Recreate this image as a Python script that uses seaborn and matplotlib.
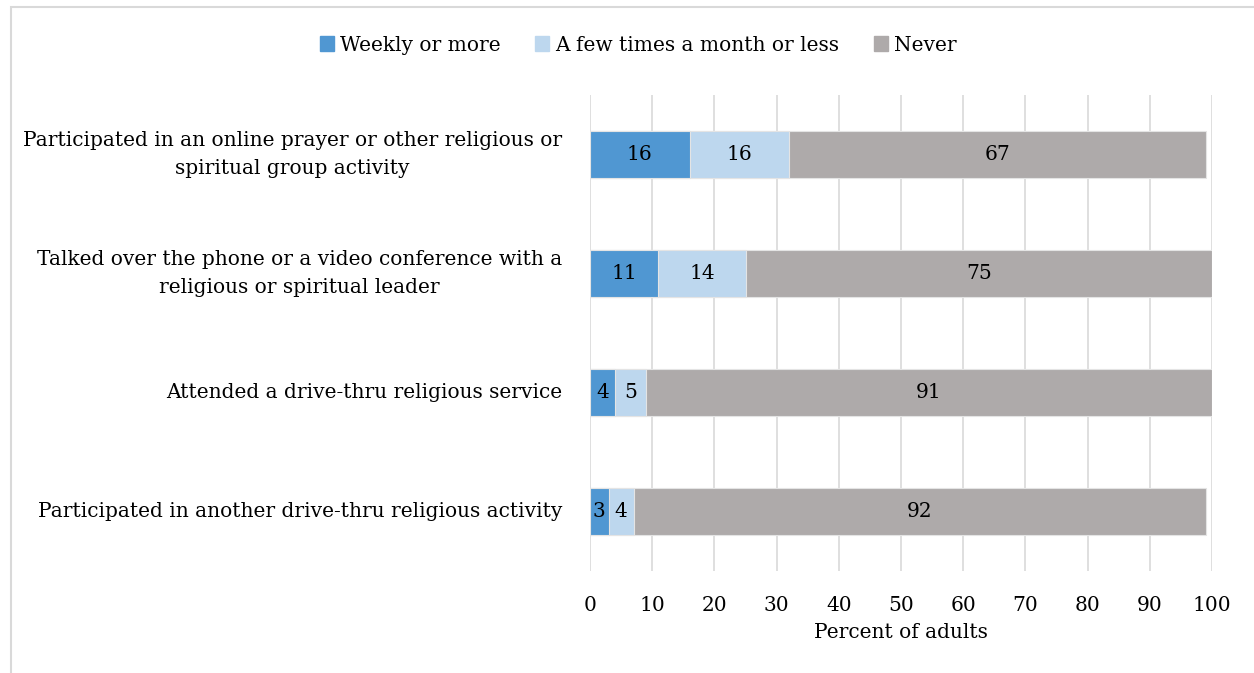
import matplotlib
matplotlib.use("Agg")
import matplotlib.pyplot as plt
import seaborn as sns
import pandas as pd
from matplotlib.patches import Rectangle
from matplotlib import font_manager

activities = [
    "Participated in an online prayer or other religious or\nspiritual group activity",
    "Talked over the phone or a video conference with a\nreligious or spiritual leader",
    "Attended a drive-thru religious service",
    "Participated in another drive-thru religious activity",
]
weekly = [16, 11, 4, 3]
monthly = [16, 14, 5, 4]
never = [67, 75, 91, 92]

series_names = ["Weekly or more", "A few times a month or less", "Never"]
colors = ["#5097D2", "#BDD7EE", "#AEAAAA"]
x_ticks = list(range(0, 101, 10))

sns.set_theme(style="white")
installed = {f.name for f in font_manager.fontManager.ttflist}
family = [f for f in ["DejaVu Serif Condensed", "DejaVu Serif"] if f in installed] or ["DejaVu Serif"]
plt.rcParams["font.family"] = family
plt.rcParams["text.color"] = "black"

FS = 14.5

df = pd.DataFrame({"activity": activities, "weekly": weekly,
                   "monthly": monthly, "never": never})
df["c1"] = df["weekly"]
df["c2"] = df["weekly"] + df["monthly"]
df["c3"] = df["c2"] + df["never"]

fig = plt.figure(figsize=(12.54, 6.73), dpi=100)
ax = fig.add_axes([0.4705, 0.1516, 0.496, 0.7072])

# stacked segments drawn back to front as cumulative totals
for col, color in zip(["c3", "c2", "c1"], colors[::-1]):
    sns.barplot(data=df, x=col, y="activity", color=color, orient="h",
                width=0.4, ax=ax, edgecolor="#E4E4E4", linewidth=0.8,
                saturation=1, zorder=3)

ax.set_xlim(0, 100)
ax.set_ylim(3.5, -0.5)
ax.set_xticks(x_ticks)
ax.set_xticklabels([str(t) for t in x_ticks])
ax.xaxis.grid(True, color="#D9D9D9", linewidth=1.2, zorder=0)
ax.yaxis.grid(False)
ax.set_axisbelow(True)
for s in ax.spines.values():
    s.set_visible(False)
ax.tick_params(axis="x", length=0, pad=18, labelsize=FS, labelcolor="black")
ax.tick_params(axis="y", length=0)
ax.set_yticklabels([])
ax.set_ylabel("")
ax.set_xlabel("Percent of adults", fontsize=FS, color="black", labelpad=6)

# category labels, centred lines, right-aligned against the plot area
for i, name in enumerate(activities):
    ax.annotate(name, xy=(0, i), xycoords=("axes fraction", "data"),
                xytext=(-20, 0), textcoords="offset points",
                ha="right", va="center", multialignment="center",
                linespacing=1.65, fontsize=FS, color="black")

# value labels centred in each segment
for i in range(len(activities)):
    starts = [0, df["c1"][i], df["c2"][i]]
    vals = [weekly[i], monthly[i], never[i]]
    for s, v in zip(starts, vals):
        ax.text(s + v / 2, i, str(v), ha="center", va="center",
                fontsize=FS, color="black", zorder=5)

handles = [Rectangle((0, 0), 1, 1, color=c) for c in colors]
leg = fig.legend(handles, series_names, loc="center", bbox_to_anchor=(0.509, 0.933),
                 ncol=3, frameon=False, fontsize=FS, handlelength=0.7,
                 handleheight=0.7, handletextpad=0.3, columnspacing=1.7)
for t in leg.get_texts():
    t.set_color("black")

fig.patches.append(Rectangle((11 / 1254, -0.05), 1.1, 1 - 7 / 673 + 0.05,
                             transform=fig.transFigure, fill=False,
                             edgecolor="#D9D9D9", linewidth=1.5))

fig.savefig("out.png", dpi=100)
